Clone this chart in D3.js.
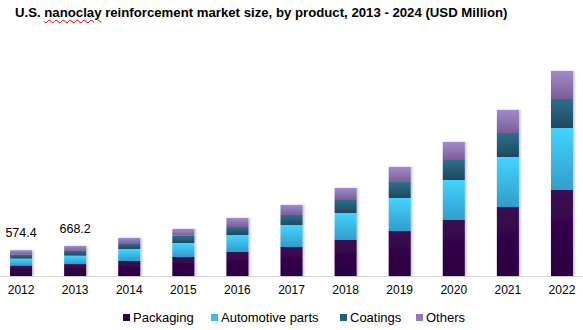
<!DOCTYPE html>
<html lang="en">
<head>
    <meta charset="UTF-8">
    <title>U.S. nanoclay reinforcement market size</title>
    <script src="https://d3js.org/d3.v7.min.js"></script>
    <style>
        body {
            margin: 0;
            background: #ffffff;
            font-family: Arial, "Liberation Sans", sans-serif;
        }
        #wrap {
            position: relative;
            width: 583px;
            height: 330px;
            overflow: hidden;
        }
        #title {
            position: absolute;
            left: 15px;
            top: 5px;
            font-size: 13.2px;
            font-weight: bold;
            color: #000;
            white-space: nowrap;
        }
        #title .sp {
            text-decoration: underline wavy #d00000;
            text-decoration-thickness: 1px;
            text-underline-offset: 2px;
        }
        svg {
            position: absolute;
            left: 0;
            top: 0;
        }
    </style>
</head>
<body>
<div id="wrap">
    <div id="title">U.S. <span class="sp">nanoclay</span> reinforcement market size, by product, 2013 - 2024 (USD Million)</div>
    <svg id="chart" width="583" height="330"></svg>
</div>

<script>
    // market data, USD million
    const years = ["2012", "2013", "2014", "2015", "2016", "2017", "2018", "2019", "2020", "2021", "2022"];
    const packaging  = [236, 266, 335, 424, 535, 647, 803, 1004, 1249, 1539, 1918];
    const automotive = [152, 188, 268, 312, 379, 491, 602, 736, 892, 1115, 1383];
    const coatings   = [93, 107, 112, 163, 178, 223, 290, 357, 446, 535, 647];
    const others     = [93.4, 107.2, 134, 149, 201, 223, 268, 335, 401, 513, 624];
    const seriesNames = ["Packaging", "Automotive parts", "Coatings", "Others"];
    const labelled = {"2012": "574.4", "2013": "668.2"};

    // top / bottom colours of each segment's gradient
    const colors = [
        ["#3b0a52", "#29003f"],
        ["#43d5ff", "#2f9dca"],
        ["#2e6f8c", "#1e485d"],
        ["#a18aca", "#7a5d98"]
    ];
    const legendColors = ["#2d0345", "#38bdf0", "#265d78", "#9079b8"];

    const svg = d3.select("#chart");
    const baseY = 276;

    const rows = years.map((y, i) => ({
        year: y,
        Packaging: packaging[i],
        "Automotive parts": automotive[i],
        Coatings: coatings[i],
        Others: others[i]
    }));

    const stacked = d3.stack().keys(seriesNames)(rows);

    const x = d3.scaleBand()
        .domain(years)
        .range([-6, 589])
        .paddingInner(0.593)
        .paddingOuter(0.2965);

    const y = d3.scaleLinear()
        .domain([0, 4572])
        .range([baseY, 71]);

    const defs = svg.append("defs");
    colors.forEach((c, i) => {
        const g = defs.append("linearGradient")
            .attr("id", "grad" + i)
            .attr("x1", 0).attr("y1", 0)
            .attr("x2", 0).attr("y2", 1);
        g.append("stop").attr("offset", "0%").attr("stop-color", c[0]);
        g.append("stop").attr("offset", "100%").attr("stop-color", c[1]);
    });

    const shadow = defs.append("filter")
        .attr("id", "shadow")
        .attr("x", "-30%").attr("y", "-10%")
        .attr("width", "160%").attr("height", "120%");
    shadow.append("feDropShadow")
        .attr("dx", 1.5).attr("dy", 0)
        .attr("stdDeviation", 1.2)
        .attr("flood-color", "#000")
        .attr("flood-opacity", 0.25);

    // baseline
    svg.append("line")
        .attr("x1", 0).attr("x2", 583)
        .attr("y1", baseY + 0.5).attr("y2", baseY + 0.5)
        .attr("stroke", "#d9d9d9")
        .attr("stroke-width", 1);

    // bars
    const barGroup = svg.append("g");
    const bars = barGroup.selectAll("g.bar")
        .data(years)
        .enter().append("g")
        .attr("class", "bar")
        .attr("filter", "url(#shadow)");

    bars.each(function(yr, j) {
        const g = d3.select(this);
        stacked.forEach((s, i) => {
            const d = s[j];
            g.append("rect")
                .attr("x", x(yr))
                .attr("width", x.bandwidth())
                .attr("y", y(d[1]))
                .attr("height", y(d[0]) - y(d[1]))
                .attr("fill", "url(#grad" + i + ")");
        });
    });

    // value labels
    svg.selectAll("text.val")
        .data(years.filter(yr => labelled[yr]))
        .enter().append("text")
        .attr("class", "val")
        .attr("x", yr => x(yr) + x.bandwidth() / 2)
        .attr("y", yr => y(+labelled[yr]) - 13)
        .attr("text-anchor", "middle")
        .attr("font-size", "12.5px")
        .attr("fill", "#000")
        .text(yr => labelled[yr]);

    // x axis labels
    const xAxis = svg.append("g")
        .attr("transform", `translate(0,${baseY})`)
        .call(d3.axisBottom(x).tickSize(0).tickPadding(9));
    xAxis.select(".domain").remove();
    xAxis.selectAll("text")
        .attr("font-size", "12px")
        .attr("font-family", "Arial, 'Liberation Sans', sans-serif")
        .attr("fill", "#000");

    // legend
    const legendX = [123, 211, 340, 416];
    const legend = svg.append("g");
    seriesNames.forEach((name, i) => {
        legend.append("rect")
            .attr("x", legendX[i])
            .attr("y", 314)
            .attr("width", 7)
            .attr("height", 7)
            .attr("fill", legendColors[i]);
        legend.append("text")
            .attr("x", legendX[i] + 10)
            .attr("y", 321.5)
            .attr("font-size", "13px")
            .attr("fill", "#000")
            .text(name);
    });
</script>
</body>
</html>
